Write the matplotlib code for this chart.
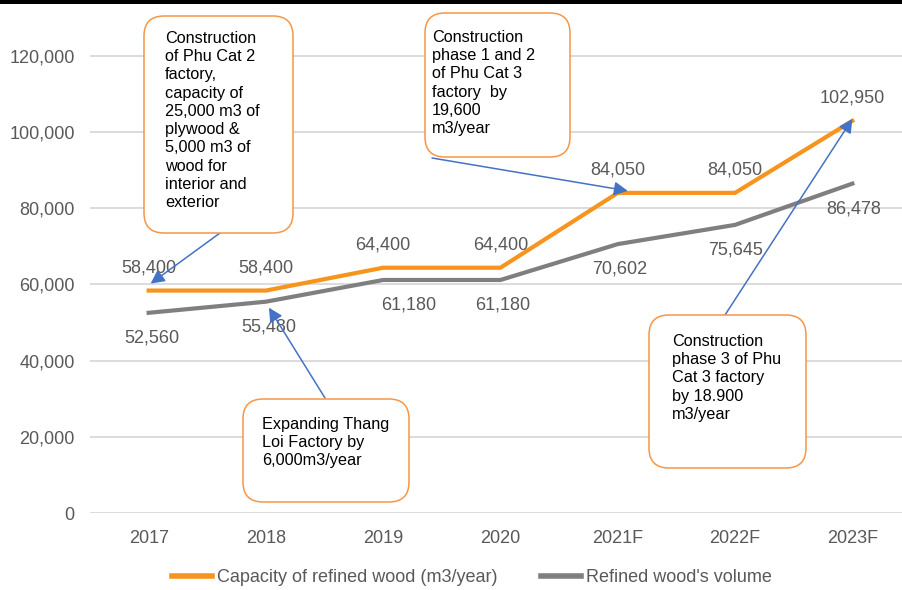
import matplotlib
matplotlib.use("Agg")
import matplotlib.pyplot as plt
from matplotlib.patches import FancyBboxPatch, Rectangle
from matplotlib.transforms import Affine2D, ScaledTranslation

plt.rcParams['font.family'] = ['Liberation Sans', 'DejaVu Sans']

years = ['2017', '2018', '2019', '2020', '2021F', '2022F', '2023F']
capacity = [58400, 58400, 64400, 64400, 84050, 84050, 102950]
volume = [52560, 55480, 61180, 61180, 70602, 75645, 86478]

ORANGE = '#F7941D'
GREY = '#7F7F7F'
LABEL = '#595959'
BLUE = '#4472C4'
BOX_EDGE = '#F79646'

W, H = 903, 590
fig = plt.figure(figsize=(W / 100, H / 100), dpi=100)

# plot area in pixels: left 90, right 911 (runs off the page), top 3, bottom 513
ax = fig.add_axes([90 / W, (H - 513) / H, 821 / W, 510 / H])
x = list(range(len(years)))

ax.plot(x, capacity, color=ORANGE, lw=3, solid_joinstyle='miter', zorder=3,
        label='Capacity of refined wood (m3/year)')
ax.plot(x, volume, color=GREY, lw=3, solid_joinstyle='miter', zorder=3,
        label="Refined wood's volume")

ax.set_xlim(-0.5, 6.5)
ax.set_ylim(0, 133900)
ax.set_yticks(range(0, 120001, 20000))
ax.yaxis.set_major_formatter(matplotlib.ticker.FuncFormatter(lambda v, p: f'{int(v):,}'))
ax.set_xticks(x)
ax.set_xticklabels(years)
ax.grid(axis='y', color='#D9D9D9', lw=1.3)
ax.set_axisbelow(True)
for s in ax.spines.values():
    s.set_visible(False)
ax.tick_params(length=0, labelsize=13, labelcolor=LABEL)
ax.tick_params(axis='y', pad=11)
ax.tick_params(axis='x', pad=12)

# value labels: orange above the line, grey below
for i, v in enumerate(capacity):
    ax.annotate(f'{v:,}', (i, v), xytext=(0, 23), textcoords='offset pixels',
                ha='center', va='center', fontsize=13, color=LABEL)
grey_dx = [3, 3, 25, 2, 2, 0, 1]
for i, v in enumerate(volume):
    ax.annotate(f'{v:,}', (i, v), xytext=(grey_dx[i], -25), textcoords='offset pixels',
                ha='center', va='center', fontsize=13, color=LABEL)

# pixel coordinates measured from the top-left corner
px = Affine2D().scale(1 / W, -1 / H).translate(0, 1) + fig.transFigure

boxes = [
    ((144, 16, 293, 233), (165, 31),
     'Construction\nof Phu Cat 2\nfactory,\ncapacity of\n25,000 m3 of\nplywood &\n'
     '5,000 m3 of\nwood for\ninterior and\nexterior'),
    ((425, 13, 570, 157), (432, 30),
     'Construction\nphase 1 and 2\nof Phu Cat 3\nfactory  by\n19,600\nm3/year'),
    ((243, 399, 409, 502), (262, 417),
     'Expanding Thang\nLoi Factory by\n6,000m3/year'),
    ((649, 315, 806, 468), (672, 334),
     'Construction\nphase 3 of Phu\nCat 3 factory\nby 18.900\nm3/year'),
]
for (x0, y0, x1, y1), (tx, ty), txt in boxes:
    fig.patches.append(FancyBboxPatch((x0, y0), x1 - x0, y1 - y0,
                                      boxstyle='round,pad=0,rounding_size=20',
                                      transform=px, fc='white', ec=BOX_EDGE, lw=1.1,
                                      zorder=5))
    fig.text(tx, ty, txt, transform=px, ha='left', va='top', fontsize=11.7,
             linespacing=1.27, color='black', zorder=6)

# arrows: tail on a box edge, head next to a point of the series
arrows = [
    ((220, 233), 0, capacity, (2, -7)),
    ((325, 398), 1, volume, (3, 6)),
    ((432, 158), 4, capacity, (10, -2)),
    ((725, 315), 6, capacity, (0, -2)),
]
for tail, i, series, (dx, dy) in arrows:
    tip = ax.transData + ScaledTranslation(dx / 100, -dy / 100, fig.dpi_scale_trans)
    ax.annotate('', xy=(i, series[i]), xycoords=tip, xytext=tail, textcoords=px,
                arrowprops=dict(arrowstyle='-|>,head_length=0.55,head_width=0.28',
                                mutation_scale=15, color=BLUE, lw=1.1,
                                shrinkA=0, shrinkB=0),
                zorder=7, annotation_clip=False)

leg = fig.legend(loc='center', bbox_to_anchor=(472 / W, (H - 578) / H), ncol=2,
                 frameon=False, fontsize=13, handlelength=2.2, handletextpad=0.3,
                 columnspacing=2.4)
for t in leg.get_texts():
    t.set_color(LABEL)
for h in leg.legend_handles:
    h.set_linewidth(4)

# black rule along the top edge
fig.patches.append(Rectangle((0, 0), W, 3.5, transform=px, fc='black', ec='none'))

fig.savefig('out.png', dpi=100)
